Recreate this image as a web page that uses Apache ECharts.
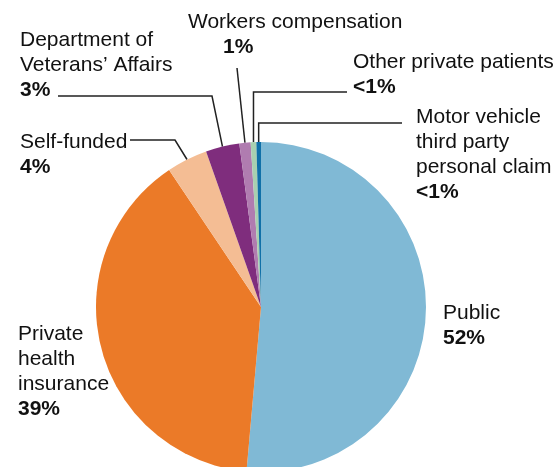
<!DOCTYPE html>
<html>
<head>
<meta charset="utf-8">
<title>Pie</title>
<script src="https://cdn.jsdelivr.net/npm/echarts@6.0.0/dist/echarts.min.js"></script>
<style>
  html, body { margin: 0; padding: 0; background: #fff; }
  #main { width: 558px; height: 467px; }
</style>
</head>
<body>
<div id="main"></div>
<script>
// 数据
var categories = ['Public', 'Private health insurance', 'Self-funded', "Department of Veterans' Affairs",
    'Workers compensation', 'Other private patients', 'Motor vehicle third party personal claim'];
var labelNames = ['Public', 'Private\nhealth\ninsurance', 'Self-funded', 'Department of\nVeterans\u2019 Affairs',
    'Workers compensation', 'Other private patients', 'Motor vehicle\nthird party\npersonal claim'];
var shares = [51.4, 39.2, 4.0, 3.3, 1.1, 0.55, 0.45];
var shareLabels = ['52%', '39%', '4%', '3%', '1%', '<1%', '<1%'];
var colors = ['#80b9d5', '#eb7a28', '#f4bd94', '#7f2d7d', '#b07cb0', '#a9d0b0', '#1070a8'];

var myChart = echarts.init(document.getElementById('main'));

// 文字位置 (左上角)
var labelPos = [
    [443, 301],
    [18, 322],
    [20, 130],
    [20, 28],
    [188, 10],
    [353, 50],
    [416, 105]
];

// 引导线: 从扇形边缘出发
var routeLine = function (i, p0) {
    if (i === 2) return [p0, [175, 140], [130, 140]];
    if (i === 3) return [p0, [212, 96], [58, 96]];
    if (i === 4) return [p0, [237, 68]];
    if (i === 5) return [p0, [p0[0], 92], [347, 92]];
    if (i === 6) return [p0, [p0[0], 123], [402, 123]];
    return null;
};

var data = [];
for (var i = 0; i < categories.length; i++) {
    data.push({
        name: categories[i],
        value: shares[i],
        itemStyle: { color: colors[i] },
        labelLine: { show: i >= 2 }
    });
}

var font = 'Liberation Sans, Arial, sans-serif';
var option = {
    animation: false,
    textStyle: { fontFamily: font },
    series: [
        {
            type: 'pie',
            center: [261, 307],
            radius: [0, 165],
            startAngle: 90,
            clockwise: true,
            avoidLabelOverlap: false,
            minShowLabelAngle: 0,
            itemStyle: { borderWidth: 0 },
            emphasis: { disabled: true },
            label: {
                show: true,
                position: 'outside',
                formatter: function (p) {
                    var lines = labelNames[p.dataIndex].split('\n').map(function (s) {
                        return '{n|' + s + '}';
                    });
                    var key = p.dataIndex === 4 ? 'q' : 'p';
                    return lines.join('\n') + '\n{' + key + '|' + shareLabels[p.dataIndex] + '}';
                },
                rich: {
                    n: { fontSize: 21, lineHeight: 25, color: '#111', fontFamily: font },
                    p: { fontSize: 21, lineHeight: 25, fontWeight: 'bold', color: '#111', fontFamily: font },
                    q: { fontSize: 21, lineHeight: 25, fontWeight: 'bold', color: '#111', padding: [0, 0, 0, 35], fontFamily: font }
                }
            },
            labelLine: {
                show: true,
                length: 10,
                length2: 10,
                lineStyle: { color: '#222', width: 1.5 }
            },
            labelLayout: function (params) {
                var i = params.dataIndex;
                var res = {
                    x: labelPos[i][0],
                    y: labelPos[i][1],
                    align: 'left',
                    verticalAlign: 'top'
                };
                if (params.labelLinePoints) {
                    var pts = routeLine(i, params.labelLinePoints[0]);
                    if (pts) res.labelLinePoints = pts;
                }
                return res;
            },
            data: data
        }
    ]
};
myChart.setOption(option);
</script>
</body>
</html>
